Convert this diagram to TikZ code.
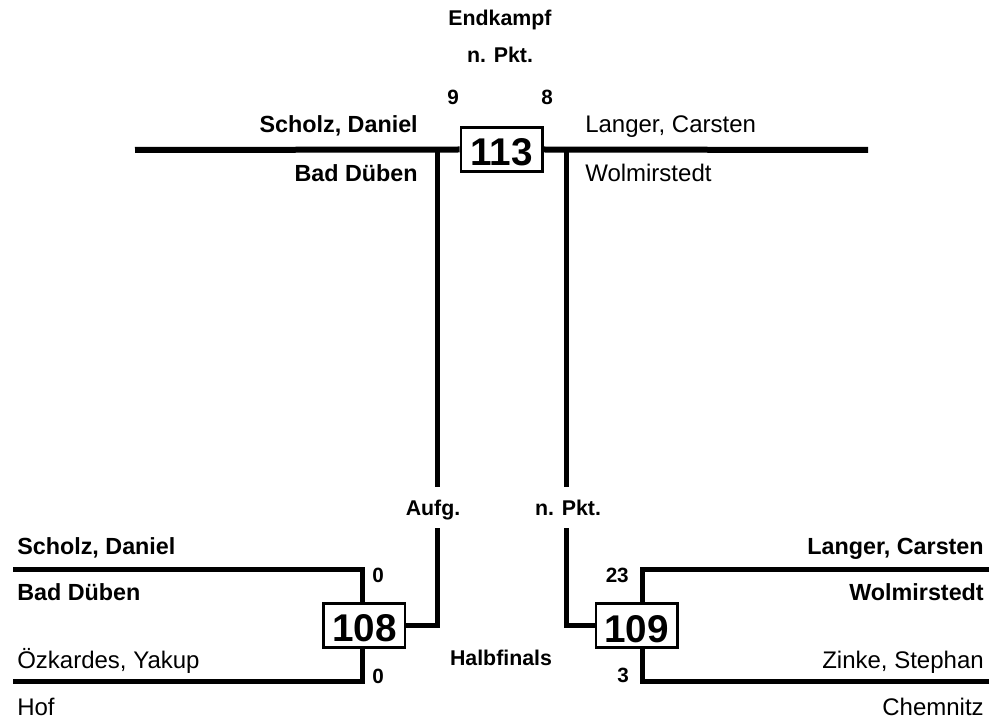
\documentclass[tikz,border=0pt]{standalone}
\usepackage{fontspec}
\setmainfont{Liberation Sans}
\begin{document}
\begin{tikzpicture}[x=0.75pt,y=-0.75pt,
  topwire/.style={line width=4.5pt, line join=miter},
  wire/.style={line width=3.75pt, line join=miter},
  box/.style={draw, line width=2pt, inner sep=0pt, minimum width=61pt, minimum height=33.2pt,
    text height=24.75pt, text depth=0pt, font=\bfseries\fontsize{29}{31}\selectfont},
  lbl/.style={inner sep=0pt, font={\bfseries\fontsize{16}{18}\selectfont}},
  num/.style={inner sep=0pt, font={\bfseries\fontsize{15.5}{17}\selectfont}},
  bname/.style={inner sep=0pt, font={\bfseries\fontsize{17.5}{20}\selectfont}},
  rname/.style={inner sep=0pt, font={\fontsize{18}{21}\selectfont}}]
\useasboundingbox (0,0) rectangle (994,723);

% boxes
\node[box] (b113) at (501.5,149.5) {113};
\node[box] (b108) at (364.4,625.4) {108};
\node[box] (b109) at (636.5,625.5) {109};

% coordinates
\coordinate (tl) at (135,150);
\coordinate (tr) at (868,150);
\coordinate (jl) at (437,150);
\coordinate (jr) at (566,150);
\coordinate (el) at (437,487);
\coordinate (er) at (566,487);
\coordinate (sl) at (437,528);
\coordinate (sr) at (566,528);
\coordinate (lt) at (13,569);
\coordinate (lb) at (13,681);
\coordinate (lct) at (362,569);
\coordinate (lcb) at (362,681);
\coordinate (rt) at (989,569);
\coordinate (rb) at (989,681);
\coordinate (rct) at (642,569);
\coordinate (rcb) at (642,681);

% final lines
\draw[topwire] (tl) -- (b113.west);
\draw[topwire] (b113.east) -- (tr);
\draw[wire] (jl) -- (el);
\draw[wire] (jr) -- (er);
\draw[wire] (sl) |- (b108.east);
\draw[wire] (sr) |- (b109.west);

% brackets
\draw[wire] (lt) -- (lct) -- (lct |- b108.north);
\draw[wire] (lb) -- (lcb) -- (lcb |- b108.south);
\draw[wire] (rt) -- (rct) -- (rct |- b109.north);
\draw[wire] (rb) -- (rcb) -- (rcb |- b109.south);

% top labels
\node[lbl, anchor=base] (endk) at (500,26) {Endkampf};
\node[lbl, anchor=base] (npkt1) at (500,63) {n. Pkt.};
\node[num, anchor=base] (s9) at (453,105) {9};
\node[num, anchor=base] (s8) at (547,105) {8};
\node[bname, anchor=base east] (fn1) at (418,133) {Scholz, Daniel};
\node[bname, anchor=base east] (fc1) at (418,182) {Bad Düben};
\node[rname, anchor=base west] (fn2) at (585,133) {Langer, Carsten};
\node[rname, anchor=base west] (fc2) at (585,182) {Wolmirstedt};

% middle labels
\node[lbl, anchor=base] (aufg) at (433,515) {Aufg.};
\node[lbl, anchor=base] (npkt2) at (568,515) {n. Pkt.};
\node[lbl, anchor=base] (halb) at (501,665) {Halbfinals};

% left semifinal
\node[bname, anchor=base west] (ln1) at (17,554) {Scholz, Daniel};
\node[bname, anchor=base west] (lc1) at (17,600) {Bad Düben};
\node[rname, anchor=base west] (ln2) at (17,668) {Özkardes, Yakup};
\node[rname, anchor=base west] (lc2) at (17,715) {Hof};
\node[num, anchor=base] (ls1) at (378,582) {0};
\node[num, anchor=base] (ls2) at (378,683) {0};

% right semifinal
\node[bname, anchor=base east] (rn1) at (984,554) {Langer, Carsten};
\node[bname, anchor=base east] (rc1) at (984,600) {Wolmirstedt};
\node[rname, anchor=base east] (rn2) at (984,668) {Zinke, Stephan};
\node[rname, anchor=base east] (rc2) at (984,715) {Chemnitz};
\node[num, anchor=base east] (rs1) at (629,582) {23};
\node[num, anchor=base east] (rs2) at (629,682) {3};
\end{tikzpicture}
\end{document}
